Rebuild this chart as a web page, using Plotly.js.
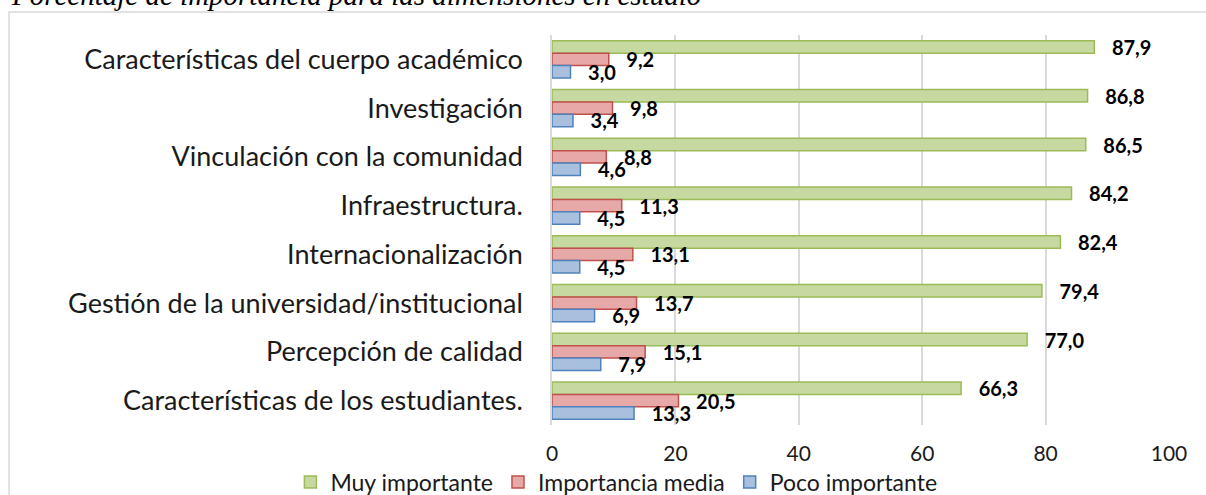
<!DOCTYPE html>
<html>
<head>
<meta charset="utf-8">
<script src="https://cdn.plot.ly/plotly-3.0.1.min.js"></script>
<style>
  html, body { margin: 0; padding: 0; background: #fff; }
  #chart { width: 1206px; height: 495px; }
</style>
</head>
<body>
<div id="chart"></div>
<script>
// categories, top to bottom
var dimensiones = [
  'Características del cuerpo académico',
  'Investigación',
  'Vinculación con la comunidad',
  'Infraestructura.',
  'Internacionalización',
  'Gestión de la universidad/institucional',
  'Percepción de calidad',
  'Características de los estudiantes.'
];

var muyImportante = [87.9, 86.8, 86.5, 84.2, 82.4, 79.4, 77.0, 66.3];
var importanciaMedia = [9.2, 9.8, 8.8, 11.3, 13.1, 13.7, 15.1, 20.5];
var pocoImportante = [3.0, 3.4, 4.6, 4.5, 4.5, 6.9, 7.9, 13.3];

var tickVals = [0, 20, 40, 60, 80, 100];

var pad = '\u00a0\u00a0\u00a0';

function serie(nombre, valores, relleno, borde) {
  return {
    type: 'bar',
    orientation: 'h',
    name: nombre,
    x: valores,
    y: dimensiones,
    marker: { color: relleno, line: { color: borde, width: 1.5 } },
    texttemplate: pad + '%{x:.1f}',
    textposition: 'outside',
    constraintext: 'none',
    cliponaxis: false,
    textfont: { family: 'Lato', size: 20, color: '#000', weight: 'bold' },
    hoverinfo: 'x+name'
  };
}

var data = [
  serie('Muy importante', muyImportante, '#c6d9a0', '#9bbb59'),
  serie('Importancia media', importanciaMedia, '#e6a9a8', '#c0504d'),
  serie('Poco importante', pocoImportante, '#a8bfdd', '#4f81bd')
];

var layout = {
  width: 1206,
  height: 495,
  separators: ',.',
  font: { family: 'Lato', color: '#1a1a1a' },
  title: {
    text: 'Porcentaje de importancia para las dimensiones en estudio',
    font: { family: 'Liberation Serif', size: 29, style: 'italic', color: '#000' },
    x: 0.01, xref: 'container', xanchor: 'left',
    y: 0.99, yref: 'container', yanchor: 'bottom'
  },
  margin: { l: 552, r: 37, t: 35, b: 70, autoexpand: false },
  barmode: 'group',
  bargap: 0.24,
  bargroupgap: 0,
  xaxis: {
    range: [0, 100],
    tickvals: tickVals,
    showgrid: true,
    gridcolor: '#d9d9d9',
    gridwidth: 1.5,
    zeroline: false,
    showline: false,
    ticks: '',
    ticklabelstandoff: 14,
    tickfont: { family: 'Lato', size: 21, color: '#1a1a1a' }
  },
  yaxis: {
    autorange: 'reversed',
    showgrid: false,
    showline: true,
    linecolor: '#d9d9d9',
    linewidth: 1.5,
    ticks: '',
    ticklabelstandoff: 22,
    tickfont: { family: 'Lato', size: 27, color: '#1a1a1a' }
  },
  legend: {
    orientation: 'h',
    x: -0.424, xanchor: 'left',
    y: -0.146, yanchor: 'middle',
    font: { family: 'Lato', size: 23, color: '#1a1a1a' },
    bgcolor: 'rgba(0,0,0,0)',
    itemwidth: 30,
    traceorder: 'normal'
  },
  shapes: [{
    type: 'rect', xref: 'paper', yref: 'paper',
    x0: -0.880, x1: 1.07, y0: -0.25, y1: 1.059,
    line: { color: '#d9d9d9', width: 1.5 },
    fillcolor: 'rgba(0,0,0,0)',
    layer: 'below'
  }],
  paper_bgcolor: '#fff',
  plot_bgcolor: '#fff',
  showlegend: true
};

Plotly.newPlot('chart', data, layout, { displayModeBar: false });
</script>
</body>
</html>
